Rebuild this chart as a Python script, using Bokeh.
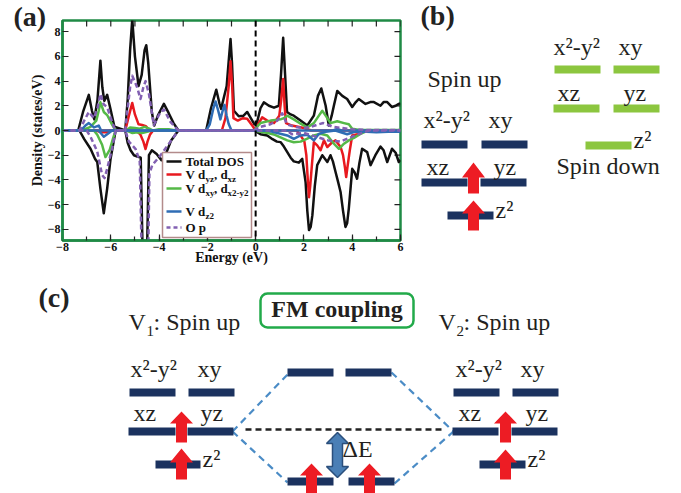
import numpy as np
from bokeh.plotting import figure
from bokeh.models import Range1d, Span, BoxAnnotation, SingleIntervalTicker
from bokeh.layouts import column, row
from bokeh.embed import file_html
from bokeh.resources import INLINE
from bokeh.core.properties import value

# ---------------- DOS data (panel a) ----------------
total_up_E = [-8, -7.35, -7.15, -6.91, -6.78, -6.68, -6.55, -6.43, -6.35, -6.27, -6.15, -6.02, -5.85, -5.4, -5.3, -5.2,
              -5.11, -5.0, -4.85, -4.72, -4.6, -4.53, -4.45, -4.3, -4.2, -4.05, -3.8, -3.6, -3.4, -3.2, -2.05, -1.85,
              -1.63, -1.5, -1.43, -1.35, -1.2, -1.1, -1.04, -0.98, -0.9, -0.7, -0.5, -0.35, -0.2, -0.05, 0.05, 0.2,
              0.34, 0.55, 0.76, 0.96, 1.05, 1.14, 1.22, 1.3, 1.45, 1.58, 1.86, 2.14, 2.41, 2.58, 2.72, 2.9, 3.03,
              3.15, 3.24, 3.38, 3.59, 3.79, 4.0, 4.15, 4.27, 4.55, 4.75, 4.9, 5.17, 5.3, 5.45, 5.65, 5.8, 5.93, 6.0]
total_up_D = [0, 0, 1.5, 2.88, 1.6, 0.9, 2.5, 5.65, 3.5, 2.4, 2.88, 1.8, 0.3, 0, 2.5, 6.5,
              9.0, 6.0, 3.6, 4.5, 6.5, 6.9, 5.5, 1.5, 0.4, 1.2, 2.15, 1.4, 0.6, 0, 0, 1.8,
              3.3, 2.2, 1.75, 2.4, 3.6, 6.0, 7.4, 5.5, 1.6, 1.15, 1.2, 1.5, 1.0, 0.5, 0.6, 1.8,
              2.28, 2.0, 1.85, 2.0, 4.5, 7.5, 4.5, 1.5, 1.3, 1.2, 0.8, 0.4, 1.2, 2.8, 3.4, 2.0, 0.4,
              1.2, 2.0, 3.2, 2.8, 2.55, 1.9, 2.3, 2.55, 2.15, 2.3, 2.3, 2.0, 2.3, 2.3, 1.9, 2.0, 2.15, 2.2]
total_dn_E = [-8, -7.3, -7.1, -6.84, -6.65, -6.56, -6.43, -6.29, -6.15, -6.01, -5.8, -5.4, -5.3, -5.18, -5.04,
              -4.9, -4.76, -4.68, -4.5, -4.42, -4.3, -4.1, -3.9, -3.7, -3.5, -3.2, -0.05, 0.2, 0.48, 0.7, 0.88,
              1.03, 1.17, 1.31, 1.45, 1.58, 1.79, 1.93, 2.07, 2.14, 2.21, 2.28, 2.35, 2.45, 2.55, 2.76, 2.97,
              3.1, 3.2, 3.31, 3.42, 3.52, 3.62, 3.72, 3.79, 3.86, 4.0, 4.1, 4.2, 4.3, 4.41, 4.62, 4.76, 4.96,
              5.17, 5.3, 5.45, 5.65, 5.8, 5.93, 6.0]
total_dn_D = [0, 0, -0.7, -1.48, -2.3, -2.55, -4.7, -6.7, -4.7, -2.3, 0, 0, -1.0, -1.6, -2.0,
              -2.1, -2.2, -10, -10, -2.0, -1.6, -1.9, -2.4, -1.8, -0.8, 0, 0, -0.3, -0.4, -0.7, -0.9,
              -0.94, -1.3, -1.75, -2.2, -2.5, -2.6, -2.3, -4.2, -6.5, -8.06, -7.8, -6.85, -4.5, -2.8, -2.0, -2.55,
              -2.0, -2.5, -3.36, -4.2, -5.0, -6.5, -7.8, -7.5, -6.3, -3.1, -3.4, -3.9, -2.6, -1.48, -1.75, -2.8, -2.0,
              -1.3, -1.6, -2.55, -1.48, -1.8, -2.55, -2.4]

red_up_E = [-8, -5.4, -5.25, -5.11, -5.0, -4.85, -4.7, -4.55, -4.4, -1.4, -1.25, -1.12, -1.04, -0.97, -0.92,
            -0.74, -0.53, -0.35, -0.14, 0.0, 0.1, 0.27, 0.48, 0.76, 0.98, 1.06, 1.14, 1.2, 1.26, 1.5, 2.0, 2.3, 6.0]
red_up_D = [0, 0, 1.2, 2.23, 1.3, 0.5, 0.45, 0.35, 0, 0, 1.0, 3.5, 5.6, 3.5, 1.0,
            0.8, 1.0, 0.95, 0.4, 0.0, 0.5, 1.07, 0.8, 0.6, 1.2, 2.5, 4.17, 2.0, 0.6, 0.4, 0.2, 0, 0]
red_dn_E = [-8, -6.6, -6.4, -6.2, -6.0, -4.95, -4.78, -4.65, -4.56, -4.48, -4.38, -4.25, 1.7, 1.86, 2.02, 2.1,
            2.16, 2.21, 2.26, 2.33, 2.41, 2.55, 2.69, 2.83, 2.97, 3.17, 3.31, 3.52, 3.62, 3.7, 3.75, 3.8, 3.9,
            4.0, 4.3, 4.5, 6.0]
red_dn_D = [0, 0, -0.15, -0.15, 0, 0, -0.3, -0.9, -1.5, -0.9, -0.35, 0, 0, -0.4, -0.9, -2.0,
            -4.0, -5.4, -4.5, -2.8, -0.95, -1.2, -1.6, -0.8, -1.34, -0.95, -0.8, -1.34, -2.0, -3.0, -3.76, -3.0, -1.6,
            -0.4, -0.27, 0, 0]

green_up_E = [-8, -7.2, -6.84, -6.6, -6.5, -6.43, -6.36, -6.29, -6.15, -5.94, -5.8, -5.35, -5.2, -5.0, -4.8, -4.6,
              -4.4, -4.25, -4.0, -3.6, -3.3, -0.05, 0.1, 0.2, 0.62, 1.03, 1.17, 1.31, 1.58, 1.86, 2.14, 2.41, 2.62,
              2.76, 2.9, 3.1, 3.38, 3.66, 3.86, 4.0, 4.3, 6.0]
green_up_D = [0, 0, 0.3, 0.8, 1.6, 2.28, 1.9, 1.5, 1.25, 0.45, 0, 0, 0.25, 0.2, 0.15, 0.3,
              0.15, 0, 0.1, 0.1, 0, 0, 0.4, 0.6, 0.8, 0.9, 1.0, 1.2, 0.9, 0.55, 0.25, 0.6, 1.2,
              1.6, 1.2, 0.6, 0.75, 0.6, 0.5, 0.15, 0.05, 0.05]
green_dn_E = [-8, -6.7, -6.56, -6.36, -6.22, -6.04, -5.9, -5.8, -5.35, -5.1, -4.9, -4.7, -4.5, -4.3, -0.05, 0.2,
              0.5, 0.8, 1.03, 1.31, 1.58, 1.86, 2.14, 2.41, 2.69, 2.97, 3.24, 3.45, 3.66, 3.86, 4.07, 4.34, 4.6, 6.0]
green_dn_D = [0, 0, -0.35, -1.15, -2.15, -1.55, -0.6, 0, 0, -0.2, -0.15, -0.2, -0.1, 0, 0, -0.1,
              -0.2, -0.35, -0.55, -0.8, -0.95, -0.9, -0.65, -0.4, -0.27, -0.4, -1.07, -1.48, -1.07, -0.8, -0.6,
              -0.27, -0.05, 0]

blue_up_E = [-8, -7.25, -7.05, -6.91, -6.7, -6.5, -6.4, -2.05, -1.9, -1.75, -1.66, -1.55, -1.46, -1.38, -1.29,
             -1.2, -1.12, -1.0, 3.2, 3.38, 3.55, 6.0]
blue_up_D = [0, 0, 0.4, 0.6, 0.25, 0.4, 0, 0, 0.5, 1.8, 2.35, 1.6, 0.9, 1.5, 2.07,
             1.2, 0.55, 0, 0, 0.13, 0, 0]
blue_dn_E = [-8, -6.5, -6.29, -6.08, -5.95, 0.5, 0.9, 1.31, 1.58, 1.86, 2.14, 2.41, 2.62, 2.9, 3.3, 3.79, 4.1,
             4.6, 5.0, 5.5, 6.0]
blue_dn_D = [0, 0, -0.5, -0.2, 0, 0, -0.2, -0.4, -0.67, -0.4, -0.35, -0.8, -0.27, -0.1, 0, -0.3, -0.1,
             -0.1, -0.15, -0.1, -0.1]

op_up_E = [-8, -7.3, -7.1, -6.91, -6.7, -6.55, -6.43, -6.29, -6.15, -6.0, -5.87, -5.8, -5.4, -5.32, -5.2, -5.11,
           -4.91, -4.77, -4.65, -4.56, -4.42, -4.22, -3.94, -3.8, -3.53, -3.2, -0.1, 0.2, 0.6, 0.9, 1.1, 1.3, 1.6,
           2.0, 2.3, 2.6, 2.8, 3.2, 3.6, 4.0, 4.5, 6.0]
op_up_D = [0, 0, 0.8, 1.5, 1.0, 1.8, 2.96, 2.1, 1.9, 1.0, 0.3, 0, 0, 1.5, 3.5, 4.43,
           3.5, 2.55, 3.5, 4.0, 2.96, 0.45, 1.5, 1.7, 0.7, 0, 0, 0.3, 0.5, 0.8, 1.4, 0.5, 0.3,
           0.2, 0.3, 0.5, 0.6, 0.3, 0.2, 0.1, 0.05, 0.05]
op_dn_E = [-8, -7.0, -6.84, -6.56, -6.36, -6.26, -6.15, -5.94, -5.8, -5.4, -5.25, -4.97, -4.8, -4.72, -4.45,
           -4.4, -4.28, -3.94, -3.53, -3.2, 1.3, 1.5, 2.0, 2.5, 3.0, 3.5, 4.0, 4.4, 4.7, 6.0]
op_dn_D = [0, 0, -0.5, -1.7, -3.6, -3.85, -3.1, -1.4, 0, 0, -0.9, -1.5, -2.5, -10, -10,
           -3.5, -2.8, -2.0, -0.9, 0, 0, -0.3, -0.2, -0.5, -0.8, -0.9, -0.5, -0.2, 0, 0]

y_tick_values = [-8, -6, -4, -2, 0, 2, 4, 6, 8]
top_tick_values = [-8, -7, -6, -5, -4, -3, -2, -1, 0, 1, 2, 3, 4, 5, 6]

BLACK = "#111111"
RED = "#e8191f"
GREEN = "#55b947"
BLUE = "#2f6db5"
PURPLE = "#8260b2"
FRAME = "#1f8a45"
SERIF = "Liberation Serif"


def mid(baseline, fs):
    # vertical middle of a text line whose alphabetic baseline is at `baseline` (y grows downward)
    return baseline - 0.34 * fs


# ---------------- panel (a) ----------------
pa = figure(width=410, height=280, x_range=Range1d(-8, 6), y_range=Range1d(-8.9, 8.9),
            output_backend="svg", toolbar_location=None, frame_align=False,
            min_border_left=62, min_border_right=10, min_border_top=20, min_border_bottom=40,
            x_axis_label="Energy (eV)", y_axis_label="Density (states/eV)", title="(a)")
pa.grid.visible = False
pa.outline_line_color = FRAME
pa.outline_line_width = 2.5

# panel letter drawn as the figure title, pulled into the left margin
pa.title.align = "left"
pa.title.offset = -49
pa.title.standoff = -22
pa.title.text_font = SERIF
pa.title.text_font_style = "bold"
pa.title.text_font_size = "28px"
pa.title.text_color = "#222222"

pa.xaxis.ticker = SingleIntervalTicker(interval=2, num_minor_ticks=2)
pa.yaxis.ticker = SingleIntervalTicker(interval=2, num_minor_ticks=0)
for ax in (pa.xaxis[0], pa.yaxis[0]):
    ax.axis_line_color = FRAME
    ax.axis_line_width = 2.5
    ax.major_tick_in = 6
    ax.major_tick_out = 0
    ax.minor_tick_in = 4
    ax.minor_tick_out = 0
    ax.major_tick_line_color = "#222222"
    ax.minor_tick_line_color = "#222222"
    ax.major_tick_line_width = 1.2
    ax.minor_tick_line_width = 1.2
    ax.major_label_text_font = SERIF
    ax.major_label_text_font_style = "bold"
    ax.major_label_text_font_size = "12px"
    ax.major_label_text_color = "#111111"
    ax.major_label_standoff = 2
    ax.axis_label_text_font = SERIF
    ax.axis_label_text_font_style = "bold"
    ax.axis_label_text_font_size = "14px"
    ax.axis_label_text_color = "#111111"
pa.xaxis.axis_label_standoff = -4
pa.yaxis.axis_label_standoff = 0

# inward ticks on the top and right frame edges
pa.segment(x0=top_tick_values, y0=[8.9] * len(top_tick_values), x1=top_tick_values,
           y1=[8.9 - 0.48] * len(top_tick_values), line_color="#222222", line_width=1.2)
pa.segment(x0=[6] * len(y_tick_values), y0=y_tick_values, x1=[6 - 0.25] * len(y_tick_values),
           y1=y_tick_values, line_color="#222222", line_width=1.2)

series = [
    (total_up_E, total_up_D, total_dn_E, total_dn_D, BLACK, "solid"),
    (red_up_E, red_up_D, red_dn_E, red_dn_D, RED, "solid"),
    (green_up_E, green_up_D, green_dn_E, green_dn_D, GREEN, "solid"),
    (blue_up_E, blue_up_D, blue_dn_E, blue_dn_D, BLUE, "solid"),
    (op_up_E, op_up_D, op_dn_E, op_dn_D, PURPLE, "5 3"),
]
for ue, ud, de, dd, col, dash in series:
    pa.line(ue, ud, line_color=col, line_width=2.5, line_dash=dash, line_join="round")
    pa.line(de, dd, line_color=col, line_width=2.5, line_dash=dash, line_join="round")

pa.add_layout(Span(location=0, dimension="height", line_color="black", line_width=2, line_dash="6 4"))


# pixel helpers for placing the legend inside the frame
def lx(px):
    return (px - 62) / (338 / 14.0) - 8


def ly(py):
    return (130 - py) / (220 / 17.8)


pa.add_layout(BoxAnnotation(left=lx(162), right=lx(251), top=ly(152), bottom=ly(237),
                            fill_color="white", fill_alpha=1, line_color="#b38b8b", line_alpha=1,
                            line_width=1.5))

legend_rows = [161, 174, 188, 211, 227]
legend_cols = [BLACK, RED, GREEN, BLUE, PURPLE]
legend_dash = ["solid", "solid", "solid", "solid", "4 3"]
for r, c, d in zip(legend_rows, legend_cols, legend_dash):
    seg = pa.segment(x0=[lx(166)], y0=[ly(r)], x1=[lx(181)], y1=[ly(r)], line_color=c, line_width=2.5, line_dash=d)
    seg.level = "overlay"

main_txt = [("Total DOS", 185, 165), ("V d", 185, 178), (", d", 213.5, 178), ("V d", 185, 192),
            (", d", 213.5, 192), ("V d", 185, 215), ("O p", 185, 231)]
sub_txt = [("yz", 205, 182), ("xz", 227, 182), ("xy", 205, 196), ("x2-y2", 227, 196), ("z2", 205, 219)]
t1 = pa.text(x=[lx(a[1]) for a in main_txt], y=[ly(mid(a[2], 13)) for a in main_txt], text=[a[0] for a in main_txt],
             text_font=value(SERIF), text_font_style="bold", text_font_size="13px",
             text_baseline="middle", text_align="left", text_color="#111111")
t1.level = "overlay"
t2 = pa.text(x=[lx(a[1]) for a in sub_txt], y=[ly(mid(a[2], 9)) for a in sub_txt], text=[a[0] for a in sub_txt],
             text_font=value(SERIF), text_font_style="bold", text_font_size="9px",
             text_baseline="middle", text_align="left", text_color="#111111")
t2.level = "overlay"

# ---------------- schematic data ----------------
NAVY = "#1b325f"
LGREEN = "#8cc63f"
ARED = "#ed1c24"
DBLUE = "#4b8cc6"


def schematic_fig(w, h, x0, y0):
    f = figure(width=w, height=h, x_range=Range1d(x0, x0 + w), y_range=Range1d(y0 + h, y0),
               output_backend="svg", toolbar_location=None, x_axis_type=None, y_axis_type=None,
               min_border=0, frame_align=False)
    f.grid.visible = False
    f.outline_line_color = None
    return f


def up_arrow(cx, tip, base, bottom, hw=11.5, sw=5.5):
    return ([cx, cx + hw, cx + sw, cx + sw, cx - sw, cx - sw, cx - hw],
            [tip, base, base, bottom, bottom, base, base])


# panel (b)
b_navy = [(421, 467, 144), (481, 527, 144), (421, 467, 182), (480, 526, 182), (447, 493, 215)]
b_green = [(554, 600, 69), (613, 659, 69), (553, 599, 108), (613, 659, 108), (585, 631, 145)]
b_text = [("Spin up", 427, 87), ("x²-y²", 423, 128), ("xy", 488, 128), ("xz", 426, 175), ("yz", 493, 175),
          ("z²", 495, 218), ("x²-y²", 553, 55), ("xy", 618, 55), ("xz", 557, 101), ("yz", 623, 101),
          ("z²", 633, 148), ("Spin down", 556, 174)]
b_arrows = [(473, 162, 177, 193), (473, 200, 213, 230)]

pb = schematic_fig(271, 280, 410, 0)
pb.quad(left=[b[0] for b in b_navy], right=[b[1] for b in b_navy], top=[b[2] - 4 for b in b_navy],
        bottom=[b[2] + 4 for b in b_navy], fill_color=NAVY, line_color=None)
pb.quad(left=[b[0] for b in b_green], right=[b[1] for b in b_green], top=[b[2] - 4 for b in b_green],
        bottom=[b[2] + 4 for b in b_green], fill_color=LGREEN, line_color=None)
axs = [up_arrow(*a) for a in b_arrows]
pb.patches(xs=[a[0] for a in axs], ys=[a[1] for a in axs], fill_color=ARED, line_color=None)
pb.text(x=[t[1] for t in b_text], y=[mid(t[2], 24) for t in b_text], text=[t[0] for t in b_text],
        text_font=value(SERIF), text_font_size="24px", text_baseline="middle", text_align="left",
        text_color="#231f20")
pb.text(x=[420], y=[mid(25, 28)], text=["(b)"], text_font=value(SERIF), text_font_style="bold",
        text_font_size="28px", text_baseline="middle", text_color="#222222")

# panel (c)
c_navy = [(129, 175, 392), (188, 234, 392), (128, 175, 431), (187, 233, 431), (155, 200, 464),
          (287, 333, 372), (345, 391, 372), (287, 333, 481), (348, 394, 481),
          (453, 499, 392), (512, 558, 392), (452, 498, 431), (511, 557, 431), (479, 525, 464)]
c_text = [("x²-y²", 130, 377), ("xy", 197, 377), ("xz", 133, 421), ("yz", 200, 421), ("z²", 202, 467),
          ("x²-y²", 455, 377), ("xy", 520, 377), ("xz", 458, 421), ("yz", 525, 421), ("z²", 527, 467),
          ("ΔE", 342, 457), ("V", 128, 330), (": Spin up", 153, 330), ("V", 438, 330), (": Spin up", 463, 330)]
c_sub = [("1", 146, 336), ("2", 456, 336)]
c_arrows = [(181, 411, 423, 442), (181, 448, 462, 479), (505, 411, 423, 442), (505, 449, 462, 479),
            (311, 463, 475, 496), (369, 463, 475, 496)]
c_links_x = [[232, 287], [232, 287], [391, 453], [394, 453]]
c_links_y = [[431, 374], [431, 482], [372, 431], [483, 431]]

pc = schematic_fig(681, 213, 0, 280)
pc.multi_line(xs=c_links_x, ys=c_links_y, line_color=DBLUE, line_width=2.2, line_dash="7 5")
pc.segment(x0=[245], y0=[429], x1=[443], y1=[429], line_color="#222222", line_width=2.5, line_dash="6 4")
pc.quad(left=[b[0] for b in c_navy], right=[b[1] for b in c_navy], top=[b[2] - 4 for b in c_navy],
        bottom=[b[2] + 4 for b in c_navy], fill_color=NAVY, line_color=None)
axs = [up_arrow(*a) for a in c_arrows]
pc.patches(xs=[a[0] for a in axs], ys=[a[1] for a in axs], fill_color=ARED, line_color=None)
cx, top, bot, hh, hw, sw = 337, 432, 477, 11, 11, 5
pc.patch(x=[cx, cx + hw, cx + sw, cx + sw, cx + hw, cx, cx - hw, cx - sw, cx - sw, cx - hw],
         y=[top, top + hh, top + hh, bot - hh, bot - hh, bot, bot - hh, bot - hh, top + hh, top + hh],
         fill_color="#4a7fb6", line_color="#2b4f7c", line_width=1.5)
pc.text(x=[t[1] for t in c_text], y=[mid(t[2], 24) for t in c_text], text=[t[0] for t in c_text],
        text_font=value(SERIF), text_font_size="24px", text_baseline="middle", text_align="left",
        text_color="#231f20")
pc.text(x=[t[1] for t in c_sub], y=[mid(t[2], 15) for t in c_sub], text=[t[0] for t in c_sub],
        text_font=value(SERIF), text_font_size="15px", text_baseline="middle", text_align="left",
        text_color="#231f20")
pc.add_layout(BoxAnnotation(left=260, right=413, top=293, bottom=327, border_radius=7,
                            fill_alpha=0, line_color="#22aa4a", line_alpha=1, line_width=2.5))
pc.text(x=[336.5], y=[mid(317, 24)], text=["FM coupling"], text_font=value(SERIF), text_font_style="bold",
        text_font_size="24px", text_baseline="middle", text_align="center", text_color="#231f20")
pc.text(x=[38], y=[mid(307, 28)], text=["(c)"], text_font=value(SERIF), text_font_style="bold",
        text_font_size="28px", text_baseline="middle", text_color="#222222")

layout = column(row(pa, pb, spacing=0), pc, spacing=0)
open("out.html", "w").write(file_html(layout, INLINE))
